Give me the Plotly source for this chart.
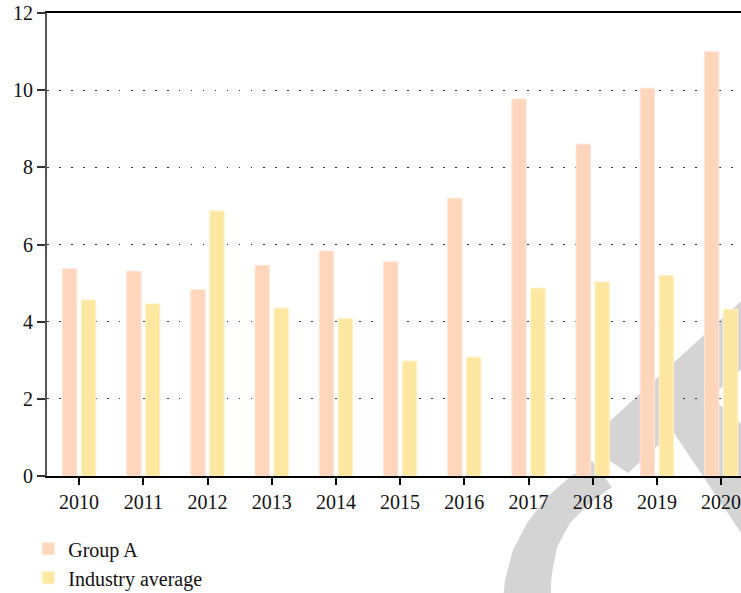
import plotly.graph_objects as go

years = ["2010", "2011", "2012", "2013", "2014", "2015", "2016", "2017", "2018", "2019", "2020"]
group_a = [5.37, 5.31, 4.83, 5.46, 5.83, 5.55, 7.2, 9.77, 8.6, 10.05, 11.0]
industry_avg = [4.56, 4.46, 6.87, 4.35, 4.09, 2.98, 3.08, 4.87, 5.03, 5.2, 4.32]
y_ticks = [0, 2, 4, 6, 8, 10, 12]

W, H = 741, 593
ML, MR, MT, MB = 47, 0, 13, 117
PW, PH = W - ML - MR, H - MT - MB

FONT = "Liberation Serif, Times New Roman, serif"


def to_paper(px, py):
    return (px - ML) / PW, (H - MB - py) / PH


def path_from(points):
    parts = []
    for i, (px, py) in enumerate(points):
        x, y = to_paper(px, py)
        parts.append(("M" if i == 0 else "L") + f"{x:.5f},{y:.5f}")
    return " ".join(parts) + " Z"


# background watermark (grey logo fragment)
band_ne = [(760, 284), (598, 432), (598, 453), (628, 473), (760, 352)]
band_se = [(672, 430), (711, 397), (780, 459), (780, 591)]
arc = [(592, 461), (570, 477), (547, 497), (527, 523), (513, 550), (505, 580), (503, 600),
       (551, 600), (551, 585), (552, 573), (557, 547), (570, 523), (590, 503), (612, 487)]

grey = "#d4d4d4"
shapes = [
    dict(type="path", xref="paper", yref="paper", path=path_from(p), fillcolor=grey,
         line=dict(width=0), layer="below")
    for p in (band_ne, band_se, arc)
]

fig = go.Figure()
fig.add_trace(go.Bar(x=years, y=group_a, name="Group A",
                     marker=dict(color="#ffd5bb", line=dict(color="#ffe6d6", width=1))))
fig.add_trace(go.Bar(x=years, y=industry_avg, name="Industry average",
                     marker=dict(color="#fee7a1", line=dict(color="#fff2c8", width=1))))

fig.update_layout(
    width=W, height=H,
    margin=dict(l=ML, r=MR, t=MT, b=MB, pad=0, autoexpand=False),
    paper_bgcolor="white",
    plot_bgcolor="rgba(0,0,0,0)",
    barmode="group",
    bargap=0.41,
    bargroupgap=0.24,
    font=dict(family=FONT, size=20, color="#111"),
    shapes=shapes,
    showlegend=True,
    legend=dict(orientation="v", x=-0.027, xanchor="left", y=-0.115, yanchor="top",
                font=dict(family=FONT, size=20, color="#111"),
                bgcolor="rgba(0,0,0,0)", tracegroupgap=2, traceorder="normal"),
    xaxis=dict(
        type="category",
        range=[-0.5, 10.31],
        showline=True, linecolor="#000", linewidth=1.5, mirror=True,
        ticks="outside", ticklen=7, tickwidth=1.5, tickcolor="#000",
        showgrid=False, zeroline=False, automargin=False,
        tickfont=dict(family=FONT, size=20, color="#111"),
        fixedrange=True,
    ),
    yaxis=dict(
        range=[0, 12],
        tickvals=y_ticks,
        showline=True, linecolor="#555", linewidth=2,
        ticks="outside", ticklen=8, tickwidth=1.5, tickcolor="#333",
        showgrid=True, gridcolor="#333", gridwidth=1.2, griddash="1.5px,10.5px",
        zeroline=False, automargin=False,
        tickfont=dict(family=FONT, size=20, color="#111"),
        fixedrange=True,
    ),
)

fig.write_html(
    "out.html",
    config={"displayModeBar": False},
    post_script="document.body.style.margin='0';document.body.style.overflow='hidden';",
)
